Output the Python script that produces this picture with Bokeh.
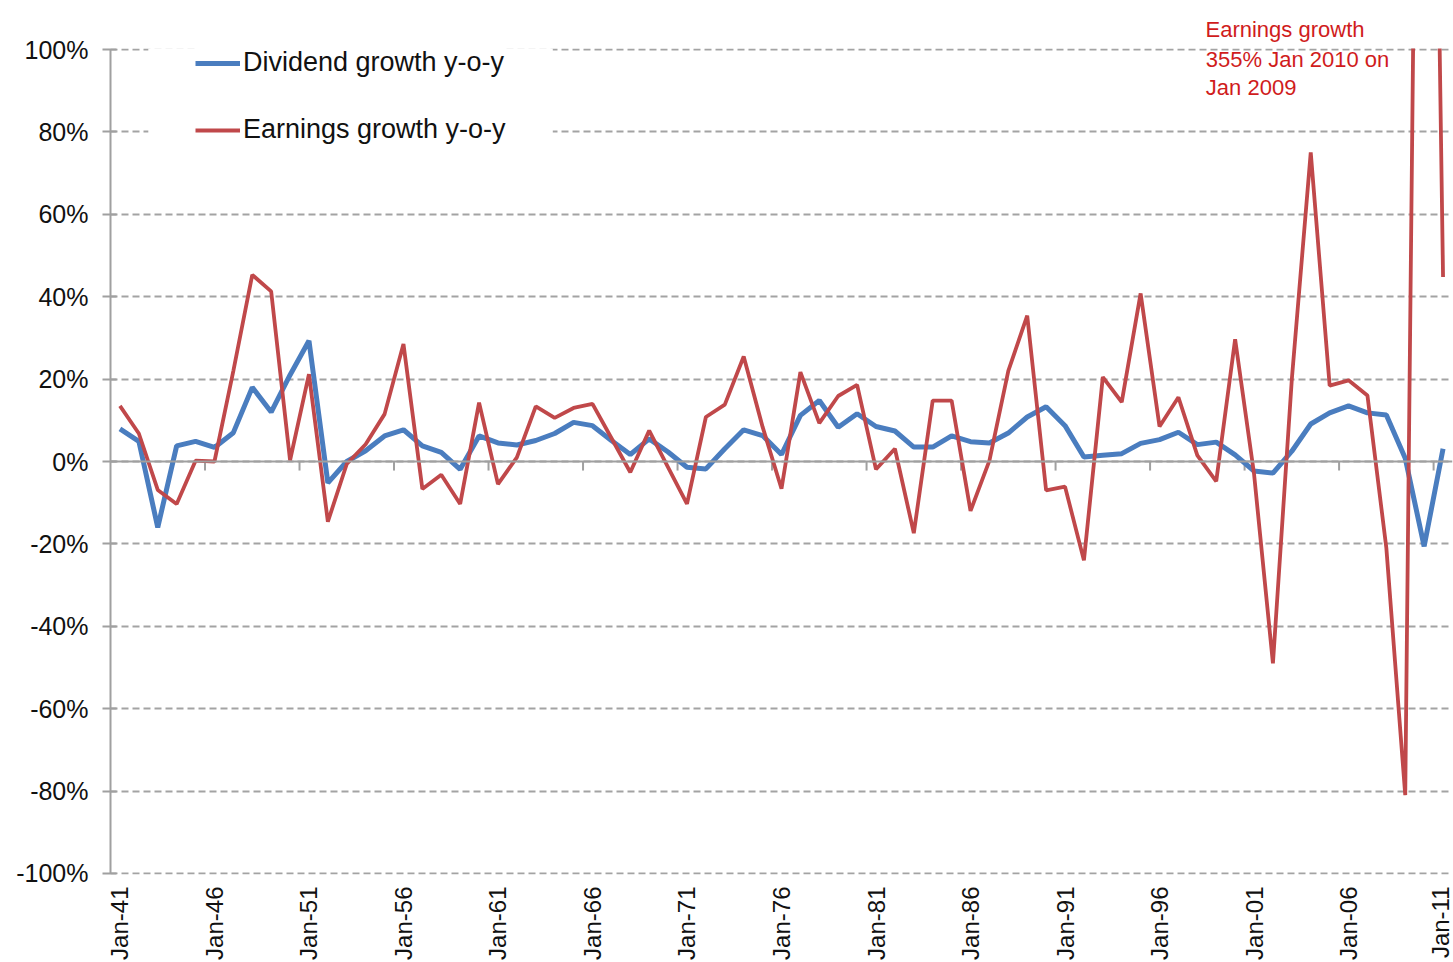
from math import pi
from bokeh.plotting import figure
from bokeh.models import (Range1d, FixedTicker, Span, Label, Legend, LegendItem,
                          BoxAnnotation)
from bokeh.embed import file_html
from bokeh.resources import INLINE

years = list(range(1941, 2012))

dividend_growth = [
    7.9, 4.9, -16.0, 3.8, 4.9, 3.4, 7.0, 18.0, 12.0, 21.0,
    29.3, -5.2, 0.0, 2.6, 6.2, 7.7, 3.8, 2.2, -1.9, 6.2,
    4.5, 4.0, 5.1, 6.8, 9.5, 8.7, 5.1, 1.7, 5.5, 2.3,
    -1.4, -1.8, 3.1, 7.7, 6.3, 1.7, 11.2, 14.8, 8.3, 11.6,
    8.5, 7.4, 3.5, 3.5, 6.2, 4.8, 4.5, 6.9, 10.8, 13.3,
    8.7, 1.1, 1.5, 1.9, 4.4, 5.3, 7.1, 4.1, 4.7, 1.6,
    -2.3, -2.8, 2.5, 9.1, 11.8, 13.5, 11.8, 11.3, 0.8, -20.6,
    3.1,
]

earnings_growth = [
    13.5, 6.8, -6.9, -10.3, 0.2, 0.0, 22.0, 45.3, 41.3, 0.3,
    21.2, -14.6, -0.6, 4.2, 11.5, 28.5, -6.7, -3.2, -10.3, 14.3,
    -5.5, 1.0, 13.4, 10.6, 13.0, 14.0, 5.7, -2.6, 7.5, -1.4,
    -10.3, 10.8, 13.8, 25.5, 8.4, -6.6, 21.7, 9.3, 15.9, 18.6,
    -1.9, 3.1, -17.4, 14.8, 14.8, -12.0, 0.2, 22.0, 35.4, -7.0,
    -6.1, -24.0, 20.5, 14.4, 40.8, 8.5, 15.6, 1.5, -4.8, 29.7,
    -3.0, -49.0, 20.0, 75.0, 18.4, 19.7, 16.0, -21.0, -81.0, 355.0,
    44.8,
]

y_ticks = [-100, -80, -60, -40, -20, 0, 20, 40, 60, 80, 100]
y_labels = ["-100%", "-80%", "-60%", "-40%", "-20%", "0%", "20%", "40%", "60%", "80%", "100%"]

x_label_years = [1941, 1946, 1951, 1956, 1961, 1966, 1971, 1976, 1981, 1986,
                 1991, 1996, 2001, 2006, 2011]
x_labels = ["Jan-41", "Jan-46", "Jan-51", "Jan-56", "Jan-61", "Jan-66", "Jan-71",
            "Jan-76", "Jan-81", "Jan-86", "Jan-91", "Jan-96", "Jan-01", "Jan-06", "Jan-11"]
# category-boundary tick marks on the zero axis
x_tick_marks = [y - 0.5 for y in x_label_years[1:]]

note_lines = ["Earnings growth", "355% Jan 2010 on", "Jan 2009"]

FONT = "Liberation Sans"
BLUE = "#4a7dbf"
RED = "#c0484a"
GRID = "#a3a3a3"
AXIS = "#a0a0a0"
NOTE = "#d01c1c"

p = figure(width=1453, height=962, output_backend="svg", toolbar_location=None,
           x_range=Range1d(1940.5, 2011.5), y_range=Range1d(-100.25, 100.25),
           min_border_left=110, min_border_right=1, min_border_top=48,
           min_border_bottom=88)
p.outline_line_color = None
p.background_fill_color = "white"
p.border_fill_color = "white"

# first line of the note sits above the plot area -> use the title slot
p.title.text = note_lines[0]
p.title.align = "left"
p.title.offset = 1095
p.title.standoff = 14
p.title.text_font = FONT
p.title.text_font_size = "22px"
p.title.text_font_style = "normal"
p.title.text_color = NOTE

# y axis
yax = p.yaxis[0]
yax.ticker = FixedTicker(ticks=y_ticks)
yax.major_label_overrides = {t: l for t, l in zip(y_ticks, y_labels)}
yax.bounds = (-100, 100)
yax.axis_line_color = AXIS
yax.axis_line_width = 2
yax.major_tick_line_color = AXIS
yax.major_tick_line_width = 2
yax.major_tick_out = 8
yax.major_tick_in = 6
yax.minor_tick_line_color = None
yax.major_label_text_font = FONT
yax.major_label_text_font_size = "25px"
yax.major_label_text_color = "#111111"
yax.major_label_standoff = 14

# x axis (labels only, at bottom)
xax = p.xaxis[0]
xax.ticker = FixedTicker(ticks=x_label_years)
xax.major_label_overrides = {t: l for t, l in zip(x_label_years, x_labels)}
xax.major_label_orientation = pi / 2
xax.axis_line_color = None
xax.major_tick_line_color = None
xax.major_tick_out = 0
xax.major_tick_in = 0
xax.minor_tick_line_color = None
xax.major_label_text_font = FONT
xax.major_label_text_font_size = "24px"
xax.major_label_text_color = "#111111"
xax.major_label_standoff = 12

# grid
p.xgrid.visible = False
p.ygrid.ticker = FixedTicker(ticks=y_ticks)
p.ygrid.grid_line_color = GRID
p.ygrid.grid_line_dash = "7 4"
p.ygrid.grid_line_width = 2

# zero axis line with tick marks
p.add_layout(Span(location=0, dimension="width", line_color=AXIS, line_width=2))
p.segment(x0=x_tick_marks, y0=[0] * len(x_tick_marks), x1=x_tick_marks,
          y1=[-2.2] * len(x_tick_marks), line_color=AXIS, line_width=2)

r_div = p.line(years, dividend_growth, line_color=BLUE, line_width=5)
r_earn = p.line(years, earnings_growth, line_color=RED, line_width=3.8)

# white legend background area
p.add_layout(BoxAnnotation(left=1942.5, right=1963.9, bottom=75.5, top=103,
                           fill_color="white", fill_alpha=1.0, line_color=None))

legend = Legend(items=[LegendItem(label="Dividend growth y-o-y", renderers=[r_div]),
                       LegendItem(label="Earnings growth y-o-y", renderers=[r_earn])],
                location=(85, 729), orientation="vertical",
                border_line_color=None, background_fill_color="white",
                background_fill_alpha=1.0, padding=0, margin=0, spacing=36,
                glyph_width=45, glyph_height=30, label_height=30,
                label_standoff=3, label_text_font=FONT,
                label_text_font_size="27px", label_text_color="#111111")
p.add_layout(legend, "center")

for i, line in enumerate(note_lines[1:]):
    p.add_layout(Label(x=1998.45, y=97.6 - i * 6.9, text=line,
                       text_font=FONT, text_font_size="22px",
                       text_color=NOTE, text_baseline="alphabetic",
                       text_align="left"))

open("out.html", "w").write(file_html(p, INLINE))
